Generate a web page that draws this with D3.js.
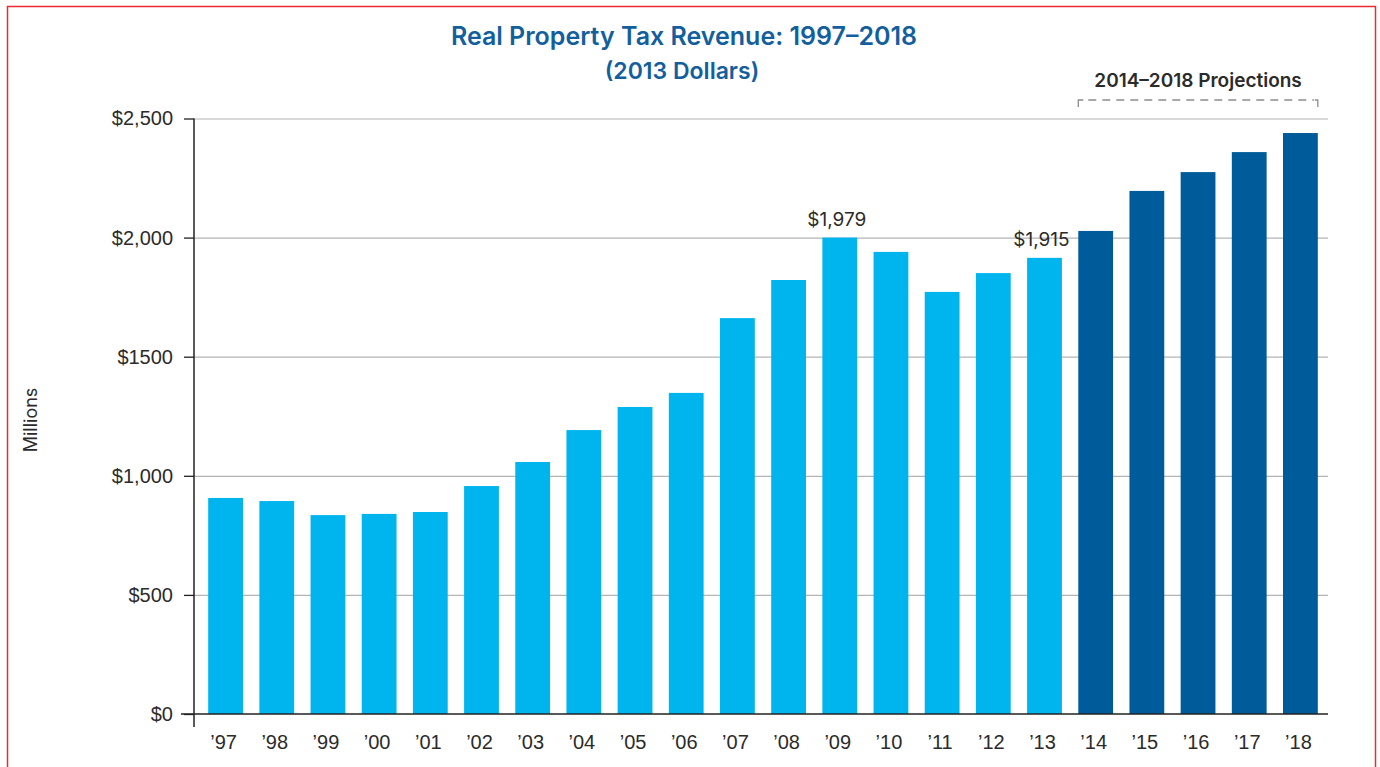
<!DOCTYPE html>
<html>
<head>
<meta charset="utf-8">
<script src="https://cdn.jsdelivr.net/npm/d3@7"></script>
<style>
  body { margin: 0; background: #fff; }
  svg { display: block; font-family: Inter, Lato, sans-serif; }
  .grid line { stroke: #b4b4b4; stroke-width: 1.2; }
  .grid path { display: none; }
  .yaxis text, .xaxis text { fill: #2b2b2b; font-size: 20px; }
  .yaxis line { stroke: #222; stroke-width: 1.3; }
  .yaxis path, .xaxis path, .xaxis line { display: none; }
</style>
</head>
<body>
<div id="chart"></div>
<script>
// years and values (millions, 2013 dollars)
const years = ['1997', '1998', '1999', '2000', '2001', '2002', '2003', '2004', '2005', '2006', '2007',
               '2008', '2009', '2010', '2011', '2012', '2013', '2014', '2015', '2016', '2017', '2018'];
const values = [907, 894, 835, 840, 848, 957, 1058, 1192, 1289, 1348, 1662,
                1822, 2000, 1940, 1772, 1851, 1915, 2028, 2196, 2275, 2359, 2439];
const projected = ['2014', '2015', '2016', '2017', '2018'];
const yTicks = [0, 500, 1000, 1500, 2000, 2500];
const yTickLabels = ['$0', '$500', '$1,000', '$1500', '$2,000', '$2,500'];
const annotations = [
  { year: '2009', text: '$1,979' },
  { year: '2013', text: '$1,915' }
];

const width = 1380;
const height = 767;
const plotLeft = 194;
const plotRight = 1328;
const plotTop = 118.5;
const plotBottom = 714;

const svg = d3.select('#chart')
              .append('svg')
              .attr('width', width)
              .attr('height', height);

// outer red frame
svg.append('rect')
   .attr('x', 7.5)
   .attr('y', 6.5)
   .attr('width', 1368)
   .attr('height', 780)
   .attr('fill', 'none')
   .attr('stroke', '#ec2a33')
   .attr('stroke-width', 1.5);

const x = d3.scaleBand()
            .domain(years)
            .range([200, 1326])
            .paddingInner(0.32)
            .paddingOuter(0.16);
const y = d3.scaleLinear()
            .domain([0, 2500])
            .range([plotBottom, plotTop]);

// grid
svg.append('g')
   .attr('class', 'grid')
   .attr('transform', `translate(${plotLeft}, 0)`)
   .call(d3.axisRight(y)
           .tickValues(yTicks.slice(1))
           .tickSize(plotRight - plotLeft)
           .tickFormat(() => ''));

// y axis ticks and labels
svg.append('g')
   .attr('class', 'yaxis')
   .attr('transform', `translate(${plotLeft}, 0)`)
   .call(d3.axisLeft(y)
           .tickValues(yTicks)
           .tickSize(10)
           .tickPadding(11)
           .tickFormat((d, i) => yTickLabels[i]));

// bars
svg.append('g')
   .selectAll('rect')
   .data(years)
   .enter()
   .append('rect')
   .attr('x', (d) => x(d))
   .attr('y', (d, i) => y(values[i]))
   .attr('width', x.bandwidth())
   .attr('height', (d, i) => plotBottom - y(values[i]))
   .attr('fill', (d) => projected.includes(d) ? '#005b9a' : '#00b5ed');

// axis lines
svg.append('path')
   .attr('d', `M${plotLeft},${plotTop}V727`)
   .attr('stroke', '#222')
   .attr('stroke-width', 1.5);
svg.append('path')
   .attr('d', `M181,${plotBottom}H${plotRight}`)
   .attr('stroke', '#222')
   .attr('stroke-width', 1.5);

// x axis labels
svg.append('g')
   .attr('class', 'xaxis')
   .attr('transform', `translate(-2, ${plotBottom})`)
   .call(d3.axisBottom(x)
           .tickSize(0)
           .tickPadding(21)
           .tickFormat((d) => '\u2019' + d.slice(2)));

// value labels
svg.append('g')
   .selectAll('text')
   .data(annotations)
   .enter()
   .append('text')
   .attr('x', (d) => x(d.year) + x.bandwidth() / 2 - 3)
   .attr('y', (d) => y(values[years.indexOf(d.year)]) - 12)
   .attr('text-anchor', 'middle')
   .attr('fill', '#2b2b2b')
   .style('font-size', '19px')
   .text((d) => d.text);

// projections bracket
const bx0 = x(projected[0]);
const bx1 = x(projected[projected.length - 1]) + x.bandwidth();
svg.append('path')
   .attr('d', `M${bx0 + 10},100H${bx1 - 4}`)
   .attr('stroke', '#8c8c8c')
   .attr('stroke-width', 1.3)
   .attr('stroke-dasharray', '8,6');
svg.append('path')
   .attr('d', `M${bx0},107V100H${bx0 + 5}M${bx1 - 3},100H${bx1}V107`)
   .attr('fill', 'none')
   .attr('stroke', '#8c8c8c')
   .attr('stroke-width', 1.3);
svg.append('text')
   .attr('x', (bx0 + bx1) / 2)
   .attr('y', 87)
   .attr('text-anchor', 'middle')
   .attr('fill', '#2b2b2b')
   .style('font-size', '19px')
   .style('font-weight', 600)
   .text('2014\u20132018 Projections');

// titles
svg.append('text')
   .attr('x', 684)
   .attr('y', 45)
   .attr('text-anchor', 'middle')
   .attr('fill', '#135f9e')
   .style('font-size', '25px')
   .style('font-weight', 600)
   .text('Real Property Tax Revenue: 1997\u20132018');
svg.append('text')
   .attr('x', 682)
   .attr('y', 79)
   .attr('text-anchor', 'middle')
   .attr('fill', '#135f9e')
   .style('font-size', '23px')
   .style('font-weight', 600)
   .text('(2013 Dollars)');

// y axis title
svg.append('text')
   .attr('transform', 'translate(37, 420) rotate(-90)')
   .attr('text-anchor', 'middle')
   .attr('fill', '#2b2b2b')
   .style('font-size', '18px')
   .text('Millions');
</script>
</body>
</html>
